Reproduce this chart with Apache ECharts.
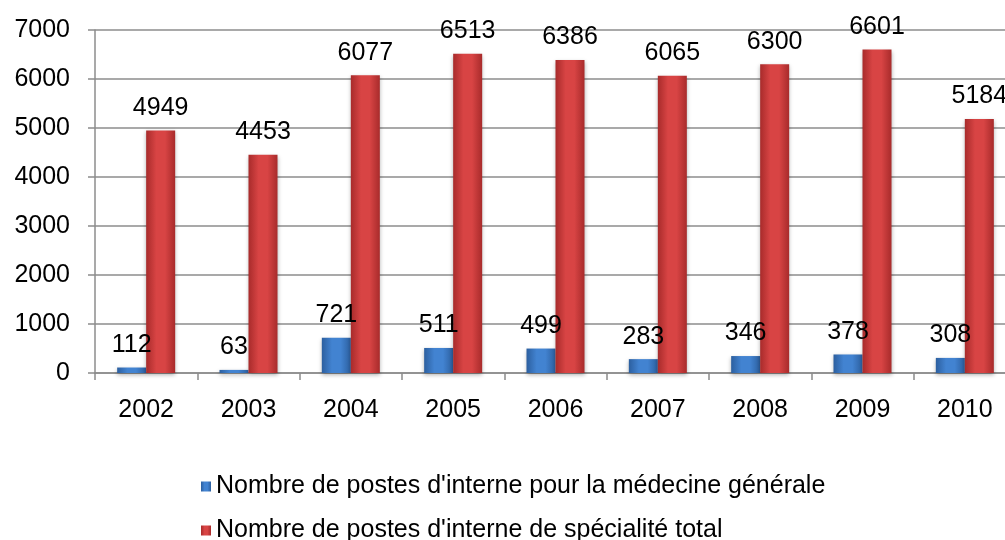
<!DOCTYPE html>
<html>
<head>
<meta charset="utf-8">
<style>
  html, body { margin: 0; padding: 0; background: #fff; overflow: hidden; }
  #chart { width: 1020px; height: 540px; }
</style>
<script src="https://cdn.jsdelivr.net/npm/echarts@6/dist/echarts.min.js"></script>
</head>
<body>
<div id="chart"></div>
<script>
// données
const years = ['2002', '2003', '2004', '2005', '2006', '2007', '2008', '2009', '2010']
const generale = [112, 63, 721, 511, 499, 283, 346, 378, 308]
const specialite = [4949, 4453, 6077, 6513, 6386, 6065, 6300, 6601, 5184]
const nameGenerale = "Nombre de postes d'interne pour la médecine générale"
const nameSpecialite = "Nombre de postes d'interne de spécialité total"

const font = 'Liberation Sans, Arial, sans-serif'
const fontSize = 25

// dégradé horizontal pour un effet de relief
function barGradient(edge, mid)
{
  return new echarts.graphic.LinearGradient(0, 0, 1, 0, [
    { offset: 0, color: edge },
    { offset: 0.35, color: mid },
    { offset: 0.65, color: mid },
    { offset: 1, color: edge }
  ])
}

// le graphique déborde à droite de la fenêtre (1005px), comme l'original
const chart = echarts.init(document.getElementById('chart'))

const labelStyle = {
  show: true,
  position: 'top',
  distance: 10,
  color: '#000',
  fontFamily: font,
  fontSize: fontSize
}

function legendRow(name, top)
{
  return {
    left: 196,
    top: top,
    itemWidth: 10,
    itemHeight: 10,
    icon: 'rect',
    textStyle: { fontSize: fontSize, color: '#000', fontFamily: font },
    data: [name]
  }
}

chart.setOption({
  animation: false,
  textStyle: { fontFamily: font },
  grid: {
    left: 95,
    top: 30,
    width: 921,
    height: 343
  },
  legend: [
    legendRow(nameGenerale, 469),
    legendRow(nameSpecialite, 513)
  ],
  xAxis: {
    type: 'category',
    data: years,
    axisLine: { lineStyle: { color: '#8c8c8c', width: 1.5 } },
    axisTick: { show: true, length: 7, lineStyle: { color: '#8c8c8c', width: 1.5 } },
    axisLabel: { color: '#000', fontSize: fontSize, fontFamily: font, margin: 25 }
  },
  yAxis: {
    type: 'value',
    min: 0,
    max: 7000,
    interval: 1000,
    axisLine: { show: true, lineStyle: { color: '#8c8c8c', width: 1.5 } },
    axisTick: { show: true, length: 7, lineStyle: { color: '#8c8c8c', width: 1.5 } },
    splitLine: { lineStyle: { color: '#8c8c8c', width: 1.5 } },
    axisLabel: {
      color: '#000',
      fontSize: fontSize,
      fontFamily: font,
      margin: 25,
      formatter: function (v) { return String(v) }
    }
  },
  series: [
    {
      name: nameGenerale,
      type: 'bar',
      data: generale,
      barWidth: 29,
      barGap: '0%',
      itemStyle: {
        color: barGradient('#2c5f9f', '#4283d1'),
        shadowColor: 'rgba(0,0,0,0.3)',
        shadowBlur: 4,
        shadowOffsetY: 2
      },
      label: labelStyle
    },
    {
      name: nameSpecialite,
      type: 'bar',
      data: specialite,
      barWidth: 29,
      barGap: '0%',
      itemStyle: {
        color: barGradient('#a82b2b', '#d84444'),
        shadowColor: 'rgba(0,0,0,0.3)',
        shadowBlur: 4,
        shadowOffsetY: 2
      },
      label: labelStyle
    }
  ]
})
</script>
</body>
</html>
